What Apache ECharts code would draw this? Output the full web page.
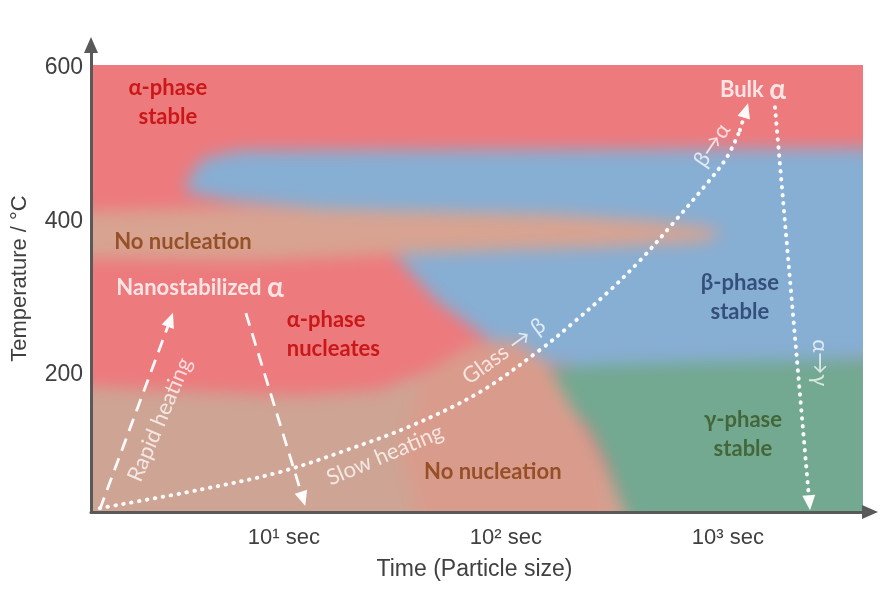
<!DOCTYPE html>
<html><head><meta charset="utf-8">
<script src="https://cdn.jsdelivr.net/npm/echarts@6/dist/echarts.min.js"></script>
<style>
html,body{margin:0;padding:0;background:#fff;}
#wrap{position:relative;width:884px;height:600px;overflow:hidden;}
#bg,#fg{position:absolute;left:0;top:0;width:884px;height:600px;}
#bg{filter:blur(8px);}
</style></head><body>
<div id="wrap"><div id="bg"></div><div id="fg"></div></div>
<script>
// ---------- axis extents & ticks ----------
const timeMin = 1.352, timeMax = 4365;       // seconds (log axis)
const tempMin = 22, tempMax = 629;           // °C
const plotTimeMax = 4020, plotTempMax = 603; // coloured map extent
const timeTicks = [10, 100, 1000];
const timeTickLabels = ['10¹ sec', '10² sec', '10³ sec'];
const tempTicks = [200, 400, 600];

// ---------- phase regions [time s, temperature °C] ----------
const alphaRegion = [[1,0],[9000,0],[9000,700],[1,700]];
const betaRegion = [[9000,495],[6.34,492],[4.4,482],[3.78,460],[3.6,438],[5.7,427],[11.8,419],[30,408],[31.6,356],[48.9,297],[84.7,245.5],[128,217],[265,209],[748,214],[9000,225]];
const bandRegion = [[1,411.7],[7.0,419],[33.3,414],[158,409],[445,401],[847,391],[940,382],[748,373],[265,366],[56,360],[19.8,354.5],[7.0,349],[1,352]];
const gammaRegion = [[128,206.5],[265,213],[748,217],[9000,222],[9000,0],[370,0],[279,90],[239,128.6],[184.5,167.5],[150,187]];
const tanRegion = [[1,187],[4.19,178],[11.8,173],[27,180.5],[45.5,206.5],[69,239],[104,245.5],[150,219.5],[184.5,174],[239,115.6],[310,51],[370,0],[1,0]];
const salmonRegion = [[41,193.5],[69,239],[116,243],[158,206.5],[205,142],[265,76.6],[310,0],[41,0],[33.3,102.6]];
const regionList = [alphaRegion, betaRegion, bandRegion, gammaRegion, tanRegion, salmonRegion];
const regionColors = ['#ed7a7d', '#87aed3', '#d8a391', '#73a891', '#cea494', '#d99c8c'];

// ---------- paths ----------
const heatTime = [1.48, 4.19, 9.6, 19.2, 38.1, 76.4, 142, 200, 285, 402, 565, 804, 989, 1132];
const heatTemp = [27, 51, 74, 102.6, 135, 178, 232.5, 267.5, 306.5, 349, 397, 449, 483, 518];
const heatArrowEnd = [1205, 544];
const rapidStart = [1.48, 25], rapidEnd = [3.08, 272];
const quenchStart = [6.74, 280.5], quenchEnd = [12.2, 39];
const gammaStart = [1629, 548], gammaEnd = [2328, 34];

// ---------- annotations ----------
const annotationText = ['α-phase\nstable','No nucleation','Nanostabilized α','α-phase\nnucleates','Rapid heating','Slow heating','Glass → β','No nucleation','β→α','Bulk α','β-phase\nstable','γ-phase\nstable','α→γ'];
const annotationTime = [3.0, 3.51, 4.19, 10.3, 2.76, 28.5, 98, 87.3, 847, 1297, 1132, 1169, 2594];
const annotationTemp = [554, 373, 313, 253, 142, 96, 231, 74, 499, 570, 301, 123, 216];
const annotationKind = ['alpha','none','nano','alphaLeft','path','path','path','none','path','bulk','beta','gamma','path'];
const annotationAngle = [0,0,0,0,67,23,36,0,56,0,0,0,-90];

const regionFont = "Lato, 'Open Sans', sans-serif";
const axisFont = "'Liberation Sans', Arial, sans-serif";
const kindStyle = {
  alpha: {color:'#c00000', fontWeight:'bold', fontSize:22, lineHeight:29},
  alphaLeft: {color:'#c00000', fontWeight:'bold', fontSize:22, lineHeight:29, align:'left'},
  none: {color:'#843c0c', fontWeight:'bold', fontSize:22},
  beta: {color:'#1f3864', fontWeight:'bold', fontSize:22, lineHeight:29},
  gamma: {color:'#375623', fontWeight:'bold', fontSize:22, lineHeight:29},
  path: {color:'rgba(255,255,255,0.92)', fontWeight:'normal', fontSize:22},
  nano: {color:'#ffffff', fontWeight:'bold', fontSize:22},
  bulk: {color:'#ffffff', fontWeight:'bold', fontSize:22}
};

function gridCfg(){ return {left:91, right:14, top:45, bottom:88}; }

// ---------- background (blurred) chart ----------
const bgDom = document.getElementById('bg');
const bg = echarts.init(bgDom, null, {renderer:'canvas'});
bg.setOption({
  animation:false,
  grid: gridCfg(),
  xAxis: {type:'log', logBase:10, min:timeMin, max:timeMax, show:false},
  yAxis: {type:'value', min:tempMin, max:tempMax, show:false},
  series: [{
    type:'custom',
    clip:false,
    silent:true,
    data: regionList.map((r,i)=>i),
    renderItem: function(params, api){
      const pts = regionList[params.dataIndex].map(p => api.coord(p));
      return {type:'polygon', shape:{points:pts}, style:{fill: regionColors[params.dataIndex]}};
    }
  }]
});
const pTL = bg.convertToPixel({gridIndex:0}, [timeMin, plotTempMax]);
const pBR = bg.convertToPixel({gridIndex:0}, [plotTimeMax, tempMin]);
bgDom.style.clipPath = 'inset(' + pTL[1] + 'px ' + (884 - pBR[0]) + 'px ' + (600 - pBR[1]) + 'px ' + pTL[0] + 'px)';

// ---------- foreground chart ----------
const fg = echarts.init(document.getElementById('fg'), null, {renderer:'canvas'});
const annotationData = annotationText.map((t, i) => {
  const st = kindStyle[annotationKind[i]];
  const label = Object.assign({show:true, position:'inside', rotate: annotationAngle[i], fontFamily: regionFont, align:'center', verticalAlign:'middle'}, st);
  if (annotationKind[i] === 'nano' || annotationKind[i] === 'bulk') {
    const parts = t.split(' ');
    const last = parts.pop();
    label.formatter = '{t|' + parts.join(' ') + ' }{g|' + last + '}';
    label.rich = {
      t: {color:'#fff', fontWeight:'bold', fontSize:22, fontFamily: regionFont},
      g: {color:'#fff', fontWeight:'bold', fontSize:28, fontFamily: regionFont}
    };
  } else {
    label.formatter = t;
  }
  return {value:[annotationTime[i], annotationTemp[i]], label: label};
});

const whiteDot = {color:'rgba(255,255,255,0.95)', width:4, type:[0.5,7.5], cap:'round'};
const whiteDash = {color:'rgba(255,255,255,0.95)', width:2.8, type:[13,8]};
function arrowLine(a, b, style){
  return {
    type:'line', data:[], silent:true,
    markLine:{silent:true, symbol:['none','triangle'], symbolSize:[13,15], label:{show:false},
      lineStyle: style, emphasis:{disabled:true},
      data:[[{coord:a},{coord:b}]]}
  };
}

fg.setOption({
  animation:false,
  grid: gridCfg(),
  xAxis: {
    type:'log', logBase:10, min:timeMin, max:timeMax,
    name:'Time (Particle size)', nameLocation:'middle', nameGap:46,
    nameTextStyle:{fontSize:23, color:'#404040', fontFamily:axisFont, padding:[0,12,0,0]},
    axisLine:{show:true, onZero:false, symbol:['none','triangle'], symbolSize:[14,16], lineStyle:{color:'#595959', width:3}},
    axisTick:{show:false}, minorTick:{show:false}, splitLine:{show:false},
    axisLabel:{
      fontSize:22, color:'#404040', fontFamily:axisFont, margin:15,
      showMinLabel:true, showMaxLabel:true,
      formatter: function(v){
        const idx = timeTicks.findIndex(t => Math.abs(Math.log10(v) - Math.log10(t)) < 1e-6);
        return idx >= 0 ? timeTickLabels[idx] : '';
      }
    }
  },
  yAxis: {
    type:'value', min:tempMin, max:tempMax,
    name:'Temperature / °C', nameLocation:'middle', nameGap:60, nameRotate:90,
    nameTextStyle:{fontSize:22, color:'#404040', fontFamily:axisFont},
    axisLine:{show:true, onZero:false, symbol:['none','triangle'], symbolSize:[14,16], lineStyle:{color:'#595959', width:3}},
    axisTick:{show:false}, splitLine:{show:false},
    axisLabel:{fontSize:23, color:'#404040', fontFamily:axisFont, margin:8, customValues: tempTicks}
  },
  series: [
    {
      type:'line', silent:true, smooth:0.35, showSymbol:false,
      data: heatTime.map((t,i)=>[t, heatTemp[i]]),
      lineStyle: whiteDot,
      markLine:{silent:true, symbol:['none','triangle'], symbolSize:[13,15], label:{show:false},
        lineStyle: whiteDot, emphasis:{disabled:true},
        data:[[{coord:[heatTime[heatTime.length-1], heatTemp[heatTemp.length-1]]},{coord:heatArrowEnd}]]}
    },
    arrowLine(rapidStart, rapidEnd, whiteDash),
    arrowLine(quenchStart, quenchEnd, whiteDash),
    arrowLine(gammaStart, gammaEnd, whiteDot),
    {
      type:'scatter', silent:true, symbolSize:0,
      data: annotationData
    }
  ]
});
</script>
</body></html>
